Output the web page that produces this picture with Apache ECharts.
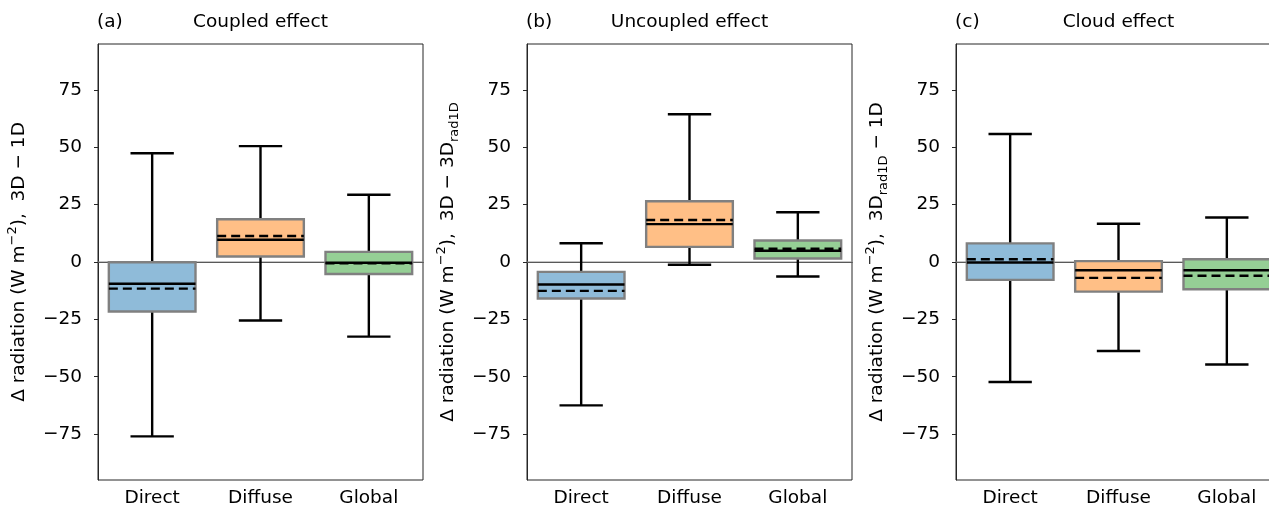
<!DOCTYPE html>
<html>
<head>
<meta charset="utf-8">
<script src="https://cdn.jsdelivr.net/npm/echarts@6/dist/echarts.min.js"></script>
<style>
html,body{margin:0;padding:0;background:#fff;}
#chart{width:1269px;height:513px;}
</style>
</head>
<body>
<div id="chart"></div>
<script>
// ---- data ----
const categories = ['Direct', 'Diffuse', 'Global'];
const panelLetters = ['(a)', '(b)', '(c)'];
const panelTitles = ['Coupled effect', 'Uncoupled effect', 'Cloud effect'];
const yTickValues = [-75, -50, -25, 0, 25, 50, 75];

// (a) Coupled effect
const coupledLow    = [-76.0, -25.5, -32.5];
const coupledQ1     = [-21.6,   2.4,  -5.2];
const coupledMedian = [ -9.5,   9.7,  -0.3];
const coupledMean   = [-11.6,  11.3,  -0.6];
const coupledQ3     = [ -0.1,  18.6,   4.4];
const coupledHigh   = [ 47.4,  50.5,  29.3];

// (b) Uncoupled effect
const uncoupledLow    = [-62.5, -1.2, -6.3];
const uncoupledQ1     = [-15.9,  6.6,  1.5];
const uncoupledMedian = [ -9.8, 16.5,  4.9];
const uncoupledMean   = [-12.6, 18.3,  5.8];
const uncoupledQ3     = [ -4.3, 26.5,  9.4];
const uncoupledHigh   = [  8.2, 64.4, 21.7];

// (c) Cloud effect
const cloudLow    = [-52.3, -38.8, -44.7];
const cloudQ1     = [ -7.8, -12.9, -11.9];
const cloudMedian = [ -0.2,  -3.6,  -3.6];
const cloudMean   = [  1.2,  -6.9,  -6.0];
const cloudQ3     = [  8.1,   0.4,   1.2];
const cloudHigh   = [ 55.8,  16.7,  19.4];

// ---- styles ----
const FONT = 'DejaVu Sans';
const FS = 18.5;
const boxColors = ['#8fbbd9', '#ffbf86', '#95cf95'];
const spineColor = '#262626';
const yNames = [
  '{t|Δ radiation (W m}{sup|−2}{t|),  3D − 1D}',
  '{t|Δ radiation (W m}{sup|−2}{t|),  3D − 3D}{sub|rad1D}',
  '{t|Δ radiation (W m}{sup|−2}{t|),  3D}{sub|rad1D}{t| − 1D}'
];
const panels = [
  [coupledLow, coupledQ1, coupledMedian, coupledQ3, coupledHigh, coupledMean],
  [uncoupledLow, uncoupledQ1, uncoupledMedian, uncoupledQ3, uncoupledHigh, uncoupledMean],
  [cloudLow, cloudQ1, cloudMedian, cloudQ3, cloudHigh, cloudMean]
];
const gridLefts = [98, 527, 956];
const gridTop = 44, gridHeight = 436, gridWidth = 325;

function fmt(v) { return v < 0 ? '\u2212' + Math.abs(v) : String(v); }

function renderBox(params, api) {
  const x = api.value(0);
  const low = api.value(1), q1 = api.value(2), med = api.value(3),
        q3 = api.value(4), high = api.value(5), mean = api.value(6);
  const band = api.size([1, 0])[0];
  const bw = band * 0.8, cw = band * 0.4;
  const cx = api.coord([x, 0])[0];
  const yLow = api.coord([x, low])[1], yQ1 = api.coord([x, q1])[1],
        yMed = api.coord([x, med])[1], yQ3 = api.coord([x, q3])[1],
        yHigh = api.coord([x, high])[1], yMean = api.coord([x, mean])[1];
  const black = { stroke: '#000', lineWidth: 2.4, fill: null };
  return {
    type: 'group',
    children: [
      { type: 'line', shape: { x1: cx, y1: yQ1, x2: cx, y2: yLow }, style: black },
      { type: 'line', shape: { x1: cx, y1: yQ3, x2: cx, y2: yHigh }, style: black },
      { type: 'line', shape: { x1: cx - cw / 2, y1: yLow, x2: cx + cw / 2, y2: yLow }, style: black },
      { type: 'line', shape: { x1: cx - cw / 2, y1: yHigh, x2: cx + cw / 2, y2: yHigh }, style: black },
      { type: 'rect', shape: { x: cx - bw / 2, y: yQ3, width: bw, height: yQ1 - yQ3 },
        style: { fill: boxColors[params.dataIndex], stroke: '#808080', lineWidth: 2.4 } },
      { type: 'line', shape: { x1: cx - bw / 2, y1: yMed, x2: cx + bw / 2, y2: yMed }, style: black },
      { type: 'line', shape: { x1: cx - bw / 2, y1: yMean, x2: cx + bw / 2, y2: yMean },
        style: { stroke: '#000', lineWidth: 2.4, lineDash: [9, 5], fill: null } }
    ]
  };
}

function renderZero(params, api) {
  const cs = params.coordSys;
  const y0 = api.coord([0, 0])[1];
  return { type: 'line', shape: { x1: cs.x, y1: y0, x2: cs.x + cs.width, y2: y0 },
           style: { stroke: '#8c8c8c', lineWidth: 1.2 } };
}

const grids = [], xAxes = [], yAxes = [], series = [], graphics = [];
panels.forEach((p, i) => {
  grids.push({ left: gridLefts[i], top: gridTop, width: gridWidth, height: gridHeight,
               outerBoundsMode: 'none', containLabel: false,
               show: true, borderColor: spineColor, borderWidth: 1, backgroundColor: 'transparent' });
  xAxes.push({
    type: 'category', gridIndex: i, data: categories,
    axisLine: { lineStyle: { color: spineColor, width: 1 } },
    axisTick: { alignWithLabel: true, length: 4, lineStyle: { color: spineColor, width: 1 } },
    axisLabel: { color: '#000', fontSize: FS, fontFamily: FONT, margin: 9 },
    splitLine: { show: false }
  });
  yAxes.push({
    type: 'value', gridIndex: i, min: -95, max: 95,
    axisLine: { show: true, lineStyle: { color: spineColor, width: 1 } },
    axisTick: { show: true, length: 4, customValues: yTickValues, lineStyle: { color: spineColor, width: 1 } },
    axisLabel: { color: '#000', fontSize: FS, fontFamily: FONT, margin: 16,
                 customValues: yTickValues, formatter: fmt },
    splitLine: { show: false },
    name: yNames[i], nameLocation: 'middle', nameGap: 66,
    nameTextStyle: {
      rich: {
        t: { fontSize: FS, fontFamily: FONT, color: '#000', lineHeight: 26 },
        sup: { fontSize: 13, fontFamily: FONT, color: '#000', lineHeight: 14, verticalAlign: 'top' },
        sub: { fontSize: 13, fontFamily: FONT, color: '#000', lineHeight: 12, verticalAlign: 'bottom' }
      }
    }
  });
  series.push({
    type: 'custom', xAxisIndex: i, yAxisIndex: i, z: 1, silent: true,
    renderItem: renderZero, data: [[0, 0]], encode: { x: 0, y: 1 }
  });
  const data = categories.map((c, k) => [k, p[0][k], p[1][k], p[2][k], p[3][k], p[4][k], p[5][k]]);
  series.push({
    type: 'custom', xAxisIndex: i, yAxisIndex: i, z: 3, silent: true,
    renderItem: renderBox, data: data, encode: { x: 0, y: [1, 2, 3, 4, 5, 6] }
  });
  graphics.push({ type: 'text', x: gridLefts[i] - 1, y: 22,
    style: { text: panelLetters[i], fontSize: FS, fontFamily: FONT, fill: '#000', align: 'left', verticalAlign: 'middle' } });
  graphics.push({ type: 'text', x: gridLefts[i] + gridWidth / 2, y: 22,
    style: { text: panelTitles[i], fontSize: FS, fontFamily: FONT, fill: '#000', align: 'center', verticalAlign: 'middle' } });
});

const chart = echarts.init(document.getElementById('chart'), null, { renderer: 'canvas' });
chart.setOption({
  animation: false,
  backgroundColor: '#fff',
  grid: grids, xAxis: xAxes, yAxis: yAxes, series: series, graphic: graphics
});
</script>
</body>
</html>
